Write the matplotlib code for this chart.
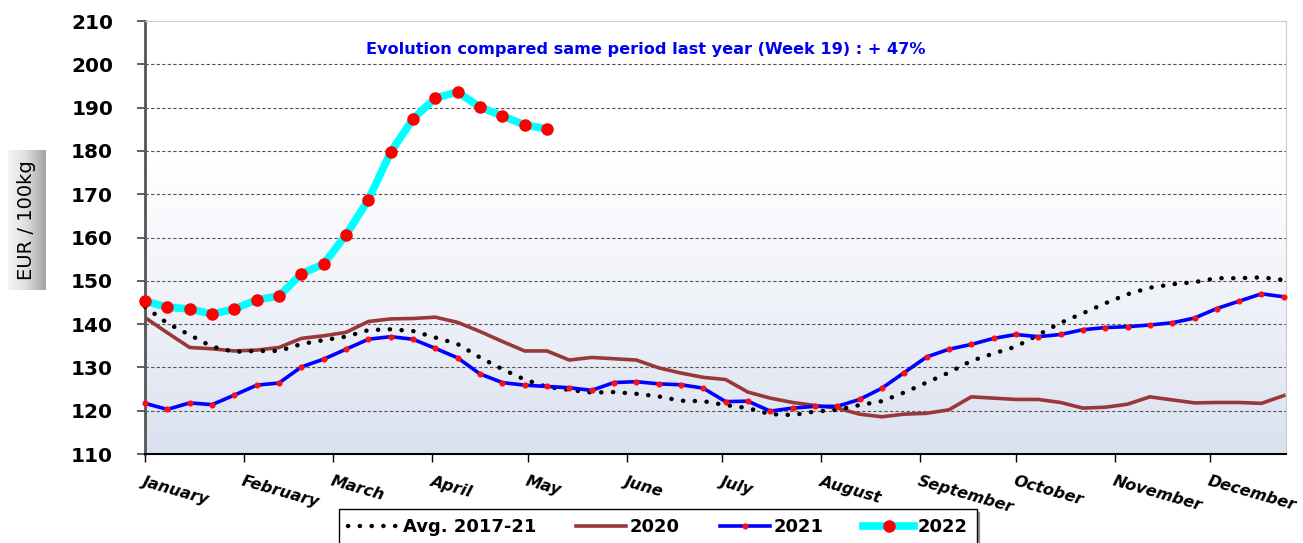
import numpy as np
import matplotlib.pyplot as plt
from matplotlib.colors import LinearSegmentedColormap

# weekly prices, EUR / 100kg
weeks = np.arange(1, 53)
avg_1721 = [144.0, 140.2, 137.5, 134.8, 133.6, 133.8, 133.8, 135.4, 136.3, 137.1,
            138.6, 138.8, 138.4, 136.9, 135.4, 132.3, 129.6, 127.2, 125.5, 124.8,
            124.2, 124.3, 123.9, 123.3, 122.3, 122.2, 121.3, 120.6, 119.2, 119.0,
            119.8, 120.2, 121.3, 122.2, 124.2, 126.5, 128.8, 131.5, 133.2, 134.8,
            137.5, 140.3, 142.5, 144.8, 146.9, 148.4, 149.2, 149.7, 150.6, 150.6,
            150.8, 150.2]
y2020 = [141.5, 138.0, 134.6, 134.3, 133.8, 134.0, 134.6, 136.7, 137.3, 138.1,
         140.6, 141.2, 141.3, 141.6, 140.4, 138.3, 136.0, 133.8, 133.8, 131.7,
         132.3, 132.0, 131.7, 129.9, 128.7, 127.7, 127.2, 124.3, 122.9, 121.9,
         121.2, 120.6, 119.2, 118.6, 119.2, 119.4, 120.2, 123.2, 122.9, 122.6,
         122.6, 121.9, 120.6, 120.8, 121.5, 123.2, 122.5, 121.8, 121.9, 121.9,
         121.7, 123.5]
y2021 = [121.7, 120.3, 121.8, 121.4, 123.6, 125.9, 126.4, 130.1, 131.9, 134.2,
         136.5, 137.1, 136.5, 134.4, 132.2, 128.5, 126.5, 125.9, 125.6, 125.3,
         124.7, 126.5, 126.7, 126.2, 126.0, 125.2, 122.1, 122.2, 119.9, 120.6,
         121.0, 121.0, 122.6, 125.2, 128.8, 132.4, 134.2, 135.3, 136.7, 137.6,
         137.1, 137.6, 138.7, 139.2, 139.4, 139.8, 140.3, 141.4, 143.6, 145.3,
         147.0, 146.3]
y2022 = [145.3, 143.9, 143.5, 142.3, 143.5, 145.6, 146.5, 151.6, 153.9, 160.6,
         168.7, 179.7, 187.4, 192.2, 193.6, 190.1, 188.1, 186.0, 185.1]

months = ['January', 'February', 'March', 'April', 'May', 'June', 'July',
          'August', 'September', 'October', 'November', 'December']
month_start_day = [0, 31, 59, 90, 120, 151, 181, 212, 243, 273, 304, 334]

fig = plt.figure(figsize=(13.03, 5.43), dpi=100)
ax = fig.add_axes([0.1113, 0.1639, 0.8757, 0.7974])

# background gradient of the plot area
cmap = LinearSegmentedColormap.from_list('bg', ['#dae1ef', '#eef1f8', '#ffffff', '#ffffff'])
grad = np.linspace(0, 1, 256).reshape(-1, 1)
ax.imshow(grad, extent=[1, 52.1, 110, 210], aspect='auto', cmap=cmap,
          origin='lower', zorder=0)

for v in range(120, 210, 10):
    ax.axhline(v, color='#555555', lw=0.8, ls=(0, (3, 2)), zorder=1)

ax.plot(weeks, y2020, color='#993838', lw=2.6, zorder=2, label='2020')
ax.plot(weeks, avg_1721, color='black', lw=3.2, ls=(0, (0.05, 2.6)),
        dash_capstyle='round', zorder=3, label='Avg. 2017-21', clip_on=False)
ax.plot(weeks, y2021, color='#0000ff', lw=2.6, marker='o', ms=3.4,
        mfc='#ff1010', mec='#ff1010', zorder=4, label='2021', clip_on=False)
ax.plot(weeks[:len(y2022)], y2022, color='#00ffff', lw=5.5, marker='o', ms=8,
        mfc='#ff0000', mec='#ff0000', zorder=5, label='2022', clip_on=False)

ax.set_xlim(1, 52.1)
ax.set_ylim(110, 210)
ax.set_yticks(range(110, 211, 10))
ax.tick_params(axis='y', length=6, width=1.2, pad=17, labelsize=14.5, color='#444444')
for lab in ax.get_yticklabels():
    lab.set_fontweight('bold')

ax.set_xticks([1 + d / 7 for d in month_start_day])
ax.set_xticklabels(months, rotation=-16, ha='left', rotation_mode='anchor',
                   fontsize=11.5, fontweight='bold', fontstyle='italic')
ax.tick_params(axis='x', length=6, width=1.0, pad=8)

ax.spines['left'].set_color('#555555')
ax.spines['left'].set_linewidth(2)
ax.spines['bottom'].set_color('black')
ax.spines['bottom'].set_linewidth(1.5)
ax.spines['top'].set_color('#cccccc')
ax.spines['right'].set_color('#cccccc')

ax.text(0.439, 0.935, 'Evolution compared same period last year (Week 19) : + 47%',
        transform=ax.transAxes, ha='center', va='center', color='#0000ee',
        fontsize=11.6, fontweight='bold')

# y label in a grey shaded box
lab_ax = fig.add_axes([0.006, 0.466, 0.029, 0.258])
box_cmap = LinearSegmentedColormap.from_list('box', ['#f6f6f6', '#dcdcdc', '#a4a4a4'])
lab_ax.imshow(np.linspace(0, 1, 64).reshape(1, -1), cmap=box_cmap, aspect='auto')
lab_ax.axis('off')
lab_ax.text(0.5, 0.5, 'EUR / 100kg', rotation=90, ha='center', va='center',
            fontsize=14, transform=lab_ax.transAxes)

handles, labels = ax.get_legend_handles_labels()
order = [1, 0, 2, 3]
leg = fig.legend([handles[i] for i in order], [labels[i] for i in order],
                 loc='upper center', bbox_to_anchor=(0.505, 0.062), ncol=4,
                 frameon=True, fancybox=False, shadow=True, numpoints=1,
                 handlelength=2.8, columnspacing=2.2, handletextpad=0.2,
                 borderpad=0.5, borderaxespad=0,
                 prop={'weight': 'bold', 'size': 13})
leg.get_frame().set_edgecolor('black')
leg.get_frame().set_linewidth(1)

fig.savefig('out.png', dpi=100)
